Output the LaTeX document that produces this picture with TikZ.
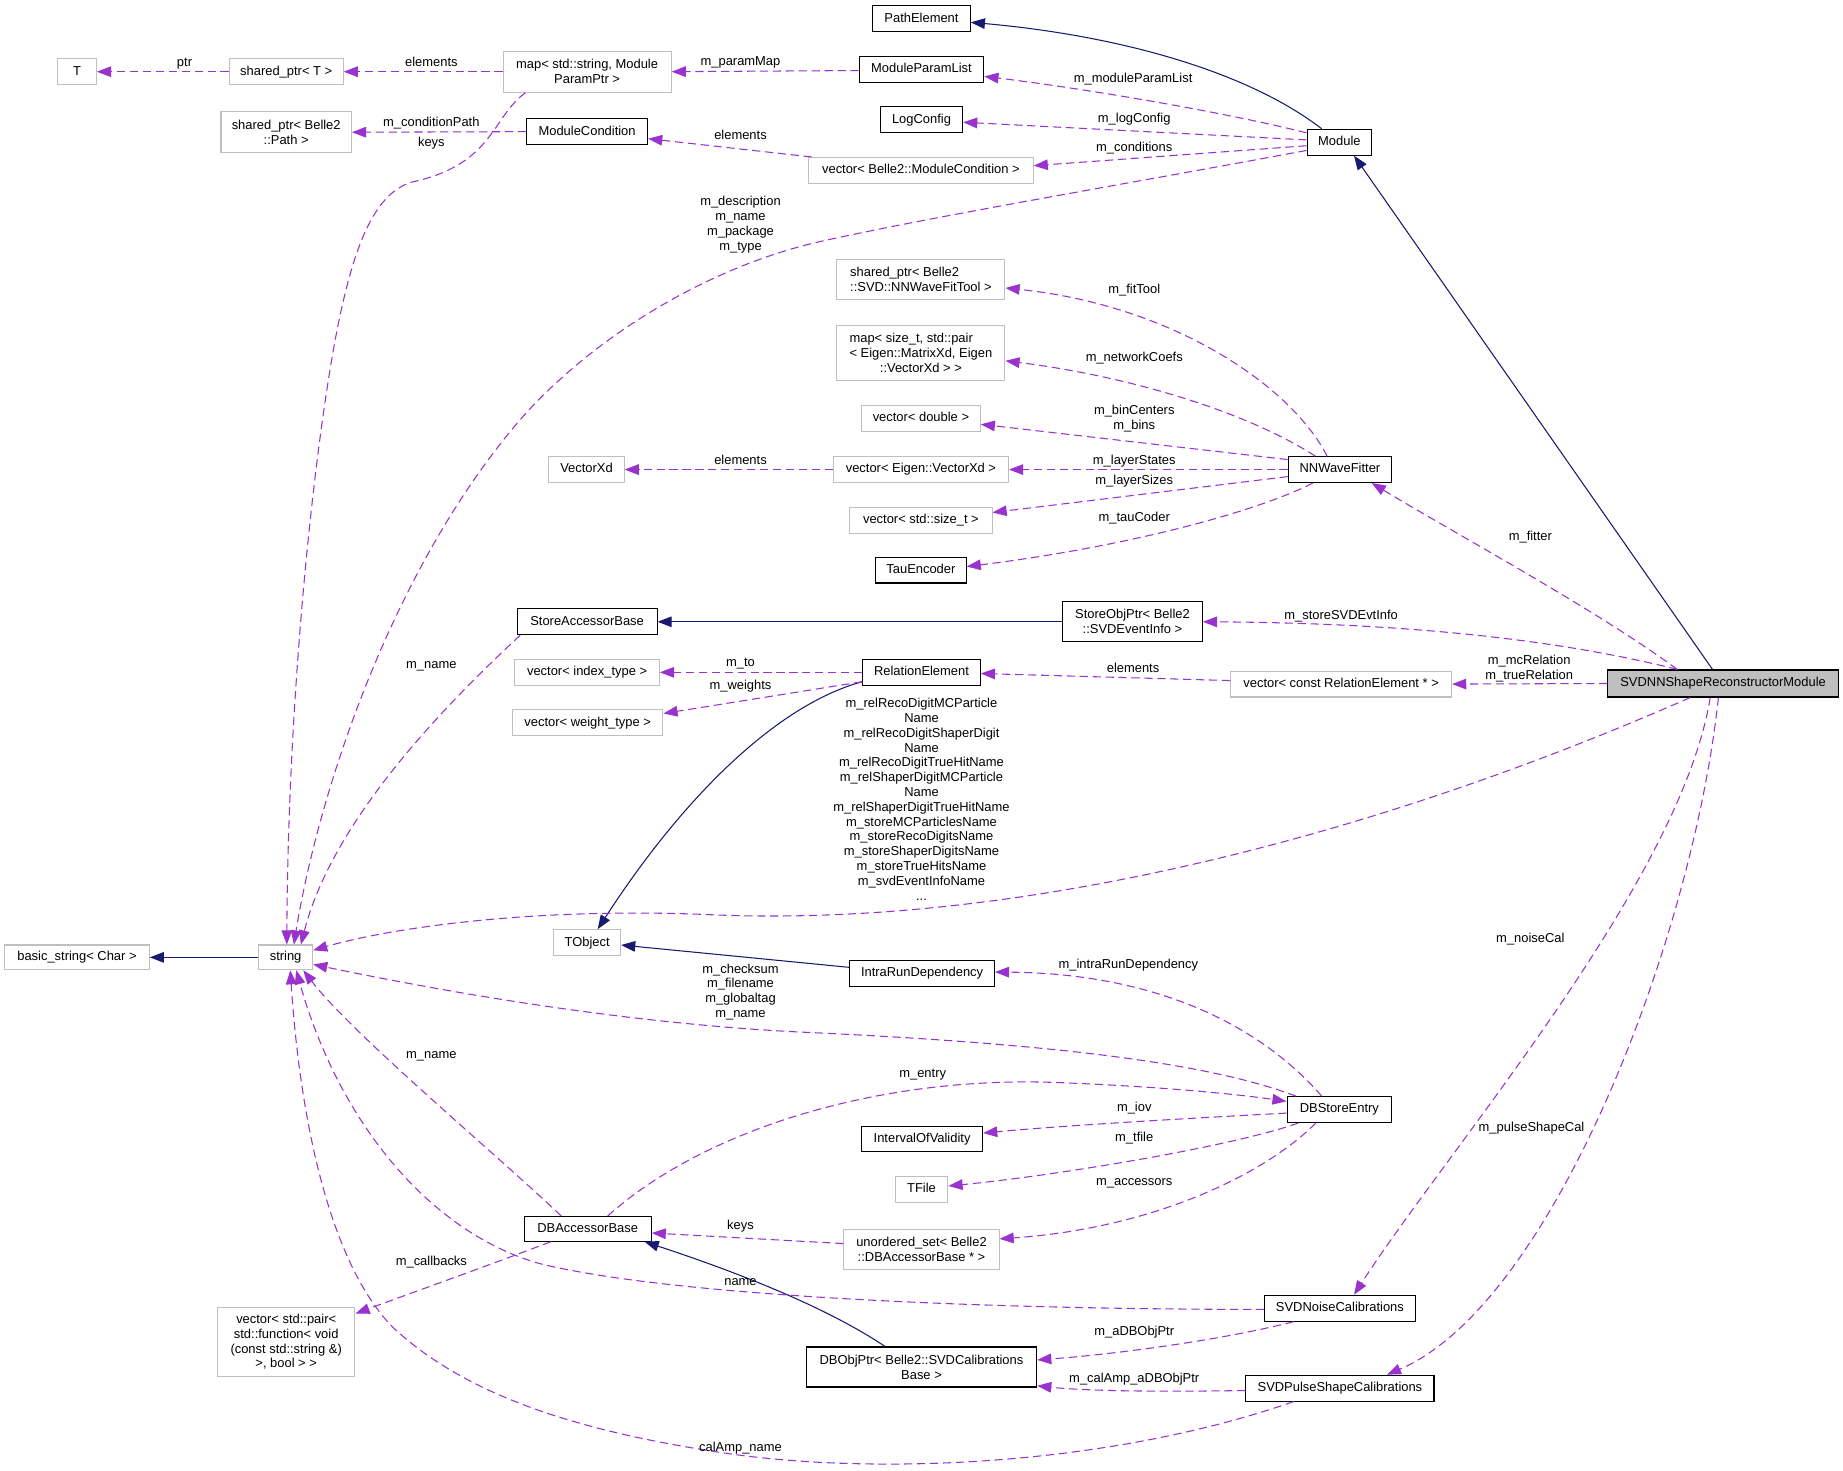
\documentclass[tikz,border=0pt]{standalone}
\usepackage{fontspec}
\setmainfont{Liberation Sans}
\usetikzlibrary{arrows.meta,calc}
\definecolor{memc}{HTML}{9A32CD}
\definecolor{inhc}{HTML}{191970}
\definecolor{grayb}{HTML}{BFBFBF}
\begin{document}
\begin{tikzpicture}[x=1pt,y=-1pt,
  box/.style={draw=black,line width=0.9pt,fill=white,inner sep=0pt,align=center,font=\fontsize{11}{12.7}\selectfont},
  gbox/.style={box,draw=grayb},
  one/.style={text height=8.2pt,text depth=2.4pt},
  lab/.style={inner sep=0pt,align=center,font=\fontsize{11}{12.7}\selectfont},
  mem/.style={draw=memc,line width=0.9pt,dash pattern=on 7pt off 4pt,-{Triangle[length=12pt,width=9pt]}},
  inh/.style={draw=inhc,line width=0.9pt,-{Triangle[length=12pt,width=9pt]}}]
\fill[white] (0,0) rectangle (1568,1251);
\useasboundingbox (0,0) rectangle (1568,1251);

% ---------- nodes ----------
\node[box,one,minimum width=83pt,minimum height=22pt] (pathel) at (784,16) {PathElement};
\node[gbox,one,minimum width=33pt,minimum height=22pt] (T) at (65.5,61) {T};
\node[gbox,one,minimum width=97pt,minimum height=22pt] (sptrT) at (243.5,61) {shared\_ptr< T >};
\node[gbox,minimum width=143pt,minimum height=35pt] (map) at (499.5,61) {map< std::string, Module\\ParamPtr >};
\node[box,one,minimum width=106pt,minimum height=22pt] (mpl) at (784,59) {ModuleParamList};
\node[box,one,minimum width=70pt,minimum height=22pt] (logc) at (784,102) {LogConfig};
\node[gbox,minimum width=111pt,minimum height=35pt] (sptrPath) at (243.5,112.5) {shared\_ptr< Belle2\\::Path >};
\node[box,one,minimum width=103pt,minimum height=22pt] (modcond) at (499.5,112) {ModuleCondition};
\node[gbox,one,minimum width=191pt,minimum height=22pt] (vecmc) at (783.5,145) {vector< Belle2::ModuleCondition >};
\node[box,one,minimum width=55pt,minimum height=22pt] (module) at (1139.5,121) {Module};
\node[gbox,minimum width=143pt,minimum height=34pt] (sptrFit) at (783.5,238) {\rlap{shared\_ptr< Belle2}\phantom{::SVD::NNWaveFitTool >}\\::SVD::NNWaveFitTool >};
\node[gbox,minimum width=143pt,minimum height=47pt] (mapSize) at (783.5,300.5) {\rlap{map< size\_t, std::pair}\phantom{< Eigen::MatrixXd, Eigen}\\< Eigen::MatrixXd, Eigen\\::VectorXd > >};
\node[gbox,one,minimum width=101pt,minimum height=22pt] (vecDouble) at (783.5,356) {vector< double >};
\node[gbox,one,minimum width=64pt,minimum height=22pt] (vecxd) at (499,399.5) {VectorXd};
\node[gbox,one,minimum width=149pt,minimum height=22pt] (vecEigen) at (783.5,399.5) {vector< Eigen::VectorXd >};
\node[box,one,minimum width=88pt,minimum height=22pt] (nnwf) at (1140,399.5) {NNWaveFitter};
\node[gbox,one,minimum width=121pt,minimum height=22pt] (vecSize) at (783.5,442.5) {vector< std::size\_t >};
\node[box,one,minimum width=77pt,minimum height=22pt] (tau) at (783.5,485) {TauEncoder};
\node[box,one,minimum width=119pt,minimum height=22pt] (sab) at (499.5,529) {StoreAccessorBase};
\node[box,minimum width=119pt,minimum height=34pt] (sop) at (963.5,529) {StoreObjPtr< Belle2\\::SVDEventInfo >};
\node[gbox,one,minimum width=123pt,minimum height=22pt] (vecIndex) at (499.5,572) {vector< index\_type >};
\node[box,one,minimum width=100pt,minimum height=22pt] (relel) at (784,572) {RelationElement};
\node[gbox,one,minimum width=188pt,minimum height=22pt] (vecCR) at (1141,582) {vector< const RelationElement * >};
\node[box,one,fill=grayb,minimum width=196pt,minimum height=23pt] (svdnn) at (1466,581.5) {SVDNNShapeReconstructorModule};
\node[gbox,one,minimum width=128pt,minimum height=22pt] (vecWeight) at (500,615) {vector< weight\_type >};
\node[gbox,one,minimum width=123pt,minimum height=21pt] (basicstr) at (65.5,814.5) {basic\_string< Char >};
\node[gbox,one,minimum width=46pt,minimum height=21pt] (string) at (243,814.5) {string};
\node[gbox,one,minimum width=57pt,minimum height=22pt] (tobject) at (499.5,802) {TObject};
\node[box,one,minimum width=123pt,minimum height=22pt] (intrarun) at (784.5,828) {IntraRunDependency};
\node[box,one,minimum width=89pt,minimum height=22pt] (dbse) at (1139.5,944) {DBStoreEntry};
\node[box,one,minimum width=103pt,minimum height=22pt] (iov) at (784.5,969) {IntervalOfValidity};
\node[gbox,one,minimum width=45pt,minimum height=22pt] (tfile) at (784,1012) {TFile};
\node[gbox,minimum width=132pt,minimum height=34pt] (uset) at (784,1063) {unordered\_set< Belle2\\::DBAccessorBase * >};
\node[box,one,minimum width=108pt,minimum height=21pt] (dbab) at (500,1045.5) {DBAccessorBase};
\node[gbox,minimum width=117pt,minimum height=59pt] (vecPair) at (243.5,1141.5) {vector< std::pair<\\std::function< void\\(const std::string \&)\\>, bool > >};
\node[box,one,minimum width=128pt,minimum height=22pt] (noise) at (1140,1113) {SVDNoiseCalibrations};
\node[box,minimum width=196pt,minimum height=34pt] (dbop) at (784,1163) {DBObjPtr< Belle2::SVDCalibrations\\Base >};
\node[box,one,minimum width=160pt,minimum height=22pt] (pulse) at (1140,1181) {SVDPulseShapeCalibrations};

% ---------- inheritance ----------
\draw[inh] ($(module.north)+(-15,0)$) .. controls (1060,60) and (950,30) .. ($(pathel.east)+(0,3)$);
\draw[inh] ($(svdnn.north)+(-9,0)$) -- ($(module.south)+(12.5,0)$);
\draw[inh] (sop.west) -- (sab.east);
\draw[inh] ($(relel.west)+(0,8)$) .. controls (660,600) and (580,680) .. ($(tobject.north)+(9,0)$);
\draw[inh] ($(intrarun.west)+(0,-5)$) -- ($(tobject.east)+(0,2)$);
\draw[inh] (string) -- (basicstr);
\draw[inh] ($(dbop.north)+(-31,0)$) .. controls (700,1110) and (620,1080) .. ($(dbab.south east)+(-6,0)$);

% ---------- members ----------
\draw[mem] (sptrT) -- (T);
\draw[mem] (map) -- (sptrT);
\draw[mem] ($(mpl.west)+(0,1)$) -- (map.east);
\draw[mem] (modcond.west) -- (sptrPath.east);
\draw[mem] ($(map.south)+(-52.5,0)$) .. controls (418,100) and (420,140) .. (350,155)
   .. controls (318,165) and (300,210) .. (285,290) .. controls (265,400) and (245,600) .. ($(string.north)+(1,0)$);
\draw[mem] ($(module.west)+(0,-8)$) .. controls (1040,95) and (920,75) .. ($(mpl.east)+(0,6)$);
\draw[mem] ($(module.west)+(0,-2)$) -- ($(logc.east)+(0,2)$);
\draw[mem] ($(module.west)+(0,3)$) -- ($(vecmc.east)+(0,-4)$);
\draw[mem] ($(vecmc.north west)+(3,0)$) -- ($(modcond.east)+(0,6)$);
\draw[mem] ($(module.west)+(0,7)$) .. controls (950,158) and (800,183) .. (700,205)
   .. controls (600,227) and (500,290) .. (440,360)
   .. controls (330,490) and (270,680) .. ($(string.north)+(7,0)$);
\draw[mem] ($(nnwf.north)+(-11,0)$) .. controls (1100,330) and (1000,260) .. ($(sptrFit.east)+(0,7)$);
\draw[mem] ($(nnwf.north)+(-21,0)$) .. controls (1060,350) and (960,320) .. ($(mapSize.east)+(0,6.5)$);
\draw[mem] ($(nnwf.west)+(0,-8.5)$) -- ($(vecDouble.east)+(0,5)$);
\draw[mem] (nnwf.west) -- (vecEigen.east);
\draw[mem] (vecEigen.west) -- (vecxd.east);
\draw[mem] ($(nnwf.west)+(0,6)$) -- ($(vecSize.east)+(0,-6.5)$);
\draw[mem] ($(nnwf.south)+(-23,0)$) .. controls (1070,435) and (960,465) .. ($(tau.east)+(0,-3)$);
\draw[mem] ($(svdnn.north)+(-39,0)$) .. controls (1360,520) and (1240,455) .. ($(nnwf.south)+(27,0)$);
\draw[mem] ($(svdnn.north)+(-39,0)$) .. controls (1330,545) and (1200,530) .. (sop.east);
\draw[mem] (svdnn.west) -- (vecCR.east);
\draw[mem] ($(vecCR.west)+(0,-3)$) -- ($(relel.east)+(0,1)$);
\draw[mem] (relel.west) -- (vecIndex.east);
\draw[mem] ($(relel.west)+(0,8)$) -- ($(vecWeight.east)+(0,-8)$);
\draw[mem] ($(sab.south west)+(3,0)$) .. controls (395,585) and (285,690) .. ($(string.north)+(13,0)$);
\draw[mem] ($(svdnn.south)+(-28,0)$) .. controls (1150,720) and (850,790) .. (600,778)
   .. controls (450,772) and (330,790) .. ($(string.east)+(0,-6)$);
\draw[mem] ($(dbse.north west)+(8,0)$) .. controls (1030,905) and (900,888) .. (680,878)
   .. controls (520,870) and (360,840) .. ($(string.east)+(0,6)$);
\draw[mem] ($(dbse.north)+(-15,0)$) .. controls (1070,870) and (980,828) .. ($(intrarun.east)+(0,-1)$);
\draw[mem] ($(dbab.north)+(17,0)$) .. controls (600,960) and (750,915) .. (900,921)
   .. controls (1000,925) and (1060,932) .. ($(dbse.west)+(0,-7)$);
\draw[mem] ($(dbse.west)+(0,3)$) .. controls (1000,952) and (900,958) .. ($(iov.east)+(0,-5)$);
\draw[mem] ($(dbse.south west)+(10,0)$) .. controls (1050,975) and (900,1000) .. ($(tfile.east)+(0,-3)$);
\draw[mem] ($(dbse.south)+(-20,0)$) .. controls (1075,1000) and (980,1045) .. ($(uset.east)+(0,-9)$);
\draw[mem] ($(uset.west)+(0,-5)$) -- ($(dbab.east)+(0,3.5)$);
\draw[mem] ($(noise.south west)+(25,0)$) .. controls (1040,1140) and (950,1152) .. ($(dbop.east)+(0,-6)$);
\draw[mem] ($(pulse.west)+(0,2)$) .. controls (1000,1184) and (930,1184) .. ($(dbop.east)+(0,16)$);
\draw[mem] ($(noise.west)+(0,1)$) .. controls (800,1114) and (560,1100) .. (459,1075)
   .. controls (370,1050) and (290,960) .. ($(string.south)+(9,0)$);
\draw[mem] ($(pulse.south west)+(41,0)$) .. controls (950,1245) and (760,1255) .. (629,1238)
   .. controls (500,1220) and (400,1190) .. (335,1130) .. controls (280,1075) and (255,950) .. ($(string.south)+(4,0)$);
\draw[mem] ($(dbab.north west)+(32,0)$) .. controls (420,980) and (300,880) .. ($(string.south)+(15,0)$);
\draw[mem] ($(dbab.south west)+(23,0)$) .. controls (420,1075) and (350,1100) .. ($(vecPair.north east)+(0,6)$);
\draw[mem] ($(svdnn.south)+(-11,0)$) .. controls (1430,750) and (1230,980) .. ($(noise.north)+(12,0)$);
\draw[mem] ($(svdnn.south)+(-4,0)$) .. controls (1440,800) and (1320,1110) .. ($(pulse.north)+(40,0)$);

% ---------- labels ----------
\node[lab,one] (l1) at (157,54) {ptr};
\node[lab,one] (l2) at (367,54) {elements};
\node[lab,one] (l3) at (630,53) {m\_paramMap};
\node[lab,one] (l4) at (367,105) {m\_conditionPath};
\node[lab,one] (l5) at (367,122) {keys};
\node[lab,one] (l6) at (964,67) {m\_moduleParamList};
\node[lab,one] (l7) at (965,101) {m\_logConfig};
\node[lab,one] (l8) at (965,126) {m\_conditions};
\node[lab,one] (l9) at (630,116) {elements};
\node[lab] (l10) at (630,191) {m\_description\\m\_name\\m\_package\\m\_type};
\node[lab,one] (l11) at (965,247) {m\_fitTool};
\node[lab,one] (l12) at (965,305) {m\_networkCoefs};
\node[lab] (l13) at (965,356) {m\_binCenters\\m\_bins};
\node[lab,one] (l14) at (965,392) {m\_layerStates};
\node[lab,one] (l15) at (630,392) {elements};
\node[lab,one] (l16) at (965,409) {m\_layerSizes};
\node[lab,one] (l17) at (965,441) {m\_tauCoder};
\node[lab,one] (l18) at (1302,457) {m\_fitter};
\node[lab,one] (l19) at (1141,524) {m\_storeSVDEvtInfo};
\node[lab] (l20) at (1301,568.5) {m\_mcRelation\\m\_trueRelation};
\node[lab,one] (l21) at (964,569) {elements};
\node[lab,one] (l22) at (630,564) {m\_to};
\node[lab,one] (l23) at (630,584) {m\_weights};
\node[lab,one] (l24) at (367,566) {m\_name};
\node[lab,font=\fontsize{11}{12.6}\selectfont] (l25) at (784,680) {m\_relRecoDigitMCParticle\\Name\\m\_relRecoDigitShaperDigit\\Name\\m\_relRecoDigitTrueHitName\\m\_relShaperDigitMCParticle\\Name\\m\_relShaperDigitTrueHitName\\m\_storeMCParticlesName\\m\_storeRecoDigitsName\\m\_storeShaperDigitsName\\m\_storeTrueHitsName\\m\_svdEventInfoName\\...};
\node[lab] (l26) at (630,844) {m\_checksum\\m\_filename\\m\_globaltag\\m\_name};
\node[lab,one] (l27) at (960,821) {m\_intraRunDependency};
\node[lab,one] (l28) at (785,914) {m\_entry};
\node[lab,one] (l29) at (965,943) {m\_iov};
\node[lab,one] (l30) at (965,968) {m\_tfile};
\node[lab,one] (l31) at (965,1006) {m\_accessors};
\node[lab,one] (l32) at (630,1043) {keys};
\node[lab,one] (l33) at (367,898) {m\_name};
\node[lab,one] (l34) at (367,1074) {m\_callbacks};
\node[lab,one] (l35) at (630,1091) {name};
\node[lab,one] (l36) at (965,1133) {m\_aDBObjPtr};
\node[lab,one] (l37) at (965,1173) {m\_calAmp\_aDBObjPtr};
\node[lab,one] (l38) at (630,1232) {calAmp\_name};
\node[lab,one] (l39) at (1302,799) {m\_noiseCal};
\node[lab,one] (l40) at (1303,960) {m\_pulseShapeCal};
\end{tikzpicture}
\end{document}
